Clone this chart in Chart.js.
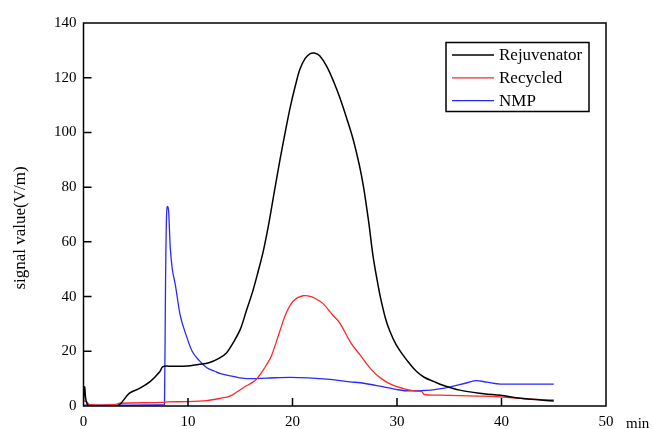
<!DOCTYPE html>
<html>
<head>
<meta charset="utf-8">
<script src="https://cdn.jsdelivr.net/npm/chart.js@4.4.1/dist/chart.umd.min.js"></script>
<style>
  html, body { margin: 0; padding: 0; background: #fff; }
  #wrap { width: 652px; height: 429px; position: relative; }
</style>
</head>
<body>
<div id="wrap"><canvas id="chart"></canvas></div>
<script>
// time axis (min) and signal values
let rejX = [0, 0.1, 0.5, 3.2, 4.4, 5.4, 6.4, 7.3, 7.6, 8.5, 9.9, 11.0, 12.0, 13.0, 13.7, 14.3, 15.0, 15.6, 16.2, 16.7, 17.2, 17.7, 18.2, 18.8, 19.3, 19.8, 20.3, 20.7, 21.2, 21.7, 22.1, 22.6, 23.3, 24.0, 24.5, 25.2, 25.8, 26.4, 26.8, 27.3, 27.7, 28.1, 28.4, 28.9, 29.3, 29.9, 30.6, 31.2, 31.9, 32.6, 33.5, 34.4, 36.0, 38.3, 39.9, 41.8, 43.5, 45.0];
let rejY = [2, 7, 0, 0, 4.7, 6.5, 9.0, 12.5, 14.4, 14.5, 14.6, 15.2, 15.8, 17.5, 19.5, 23, 28, 35, 42, 49, 56.5, 66, 77, 90, 100, 109.5, 117.5, 123, 127, 128.8, 129, 128, 124, 118, 113, 105, 97.5, 88, 80, 67, 55, 46, 40, 32, 27.5, 22.5, 18.5, 15.5, 12.5, 10.5, 9, 7.6, 5.8, 4.5, 3.9, 2.8, 2.3, 1.8];

let recX = [0, 0.3, 0.6, 3.0, 3.5, 7.6, 8.0, 10.0, 11.8, 13.1, 14.0, 14.7, 15.5, 16.4, 17.0, 17.5, 18.0, 18.8, 19.4, 20.1, 21.0, 21.8, 22.3, 22.9, 23.9, 24.5, 25.6, 26.5, 27.5, 28.5, 29.6, 30.8, 31.9, 32.4, 32.6, 34.1, 36.0, 38.3, 40.5, 43.4, 45.0];
let recY = [2, 1.5, 0.5, 0.5, 1.0, 1.3, 1.5, 1.6, 2.0, 2.8, 3.6, 5.2, 7.2, 9.2, 12, 15, 18.5, 27.5, 34, 38.5, 40.3, 40, 39, 37.5, 33, 30.5, 23, 18.5, 13.5, 10, 7.6, 6.2, 5.4, 5.2, 4.2, 4.0, 3.8, 3.6, 3.2, 2.4, 2.2];

let nmpX = [0, 7.75, 7.85, 7.95, 8.05, 8.15, 8.3, 8.5, 8.7, 8.8, 9.23, 9.9, 10.4, 11.1, 11.8, 12.5, 13.1, 14.3, 15.6, 17.5, 19.8, 21.5, 23.6, 25.5, 26.5, 28.7, 30.0, 31.2, 33.2, 35.1, 36.7, 37.6, 38.6, 39.9, 45.0];
let nmpY = [0.3, 0.5, 45, 70, 73, 71, 58, 50, 46, 44, 33.6, 25, 20, 16.5, 14, 12.8, 11.8, 10.8, 10, 10.2, 10.5, 10.3, 9.7, 8.8, 8.5, 7, 6, 5.5, 5.8, 7, 8.5, 9.3, 8.7, 8, 8];

let seriesNames = ['Rejuvenator', 'Recycled', 'NMP'];
let seriesColors = ['#000000', 'rgb(255,40,40)', 'rgb(40,40,255)'];

let xTicks = [0, 10, 20, 30, 40, 50];
let yTicks = [0, 20, 40, 60, 80, 100, 120, 140];

function toPoints(xs, ys) {
  return xs.map(function(x, i) { return {x: x, y: ys[i]}; });
}

let serif = '"Liberation Serif", "DejaVu Serif", serif';

// frame, inward ticks, axis unit, y title, legend box
let extras = {
  id: 'extras',
  afterDraw: function(chart) {
    let ctx = chart.ctx;
    let a = chart.chartArea;
    let xs = chart.scales.x, ys = chart.scales.y;
    ctx.save();
    ctx.strokeStyle = '#000';
    ctx.lineWidth = 1.5;
    ctx.strokeRect(a.left, a.top, a.right - a.left, a.bottom - a.top);
    ctx.beginPath();
    yTicks.forEach(function(v) {
      if (v == 0 || v == 140) return;
      let p = ys.getPixelForValue(v);
      ctx.moveTo(a.left, p); ctx.lineTo(a.left + 8, p);
    });
    xTicks.forEach(function(v) {
      if (v == 0 || v == 50) return;
      let p = xs.getPixelForValue(v);
      ctx.moveTo(p, a.bottom); ctx.lineTo(p, a.bottom - 8);
    });
    ctx.stroke();

    ctx.fillStyle = '#000';
    ctx.font = '15px ' + serif;
    ctx.textBaseline = 'middle';
    ctx.textAlign = 'left';
    ctx.fillText('min', 626, 424);

    ctx.save();
    ctx.translate(21, 228);
    ctx.rotate(-Math.PI / 2);
    ctx.textAlign = 'center';
    ctx.font = '17px ' + serif;
    ctx.fillText('signal value(V/m)', 0, 0);
    ctx.restore();

    // legend
    ctx.lineWidth = 1.5;
    ctx.strokeRect(446, 42.5, 143, 69);
    ctx.font = '17px ' + serif;
    ctx.textAlign = 'left';
    seriesNames.forEach(function(name, i) {
      let y = 55 + i * 22.8;
      ctx.strokeStyle = seriesColors[i];
      ctx.lineWidth = 1.3;
      ctx.beginPath();
      ctx.moveTo(452, y); ctx.lineTo(494, y);
      ctx.stroke();
      ctx.fillStyle = '#000';
      ctx.fillText(name, 499, y + 1);
    });
    ctx.restore();
  }
};

new Chart(document.getElementById('chart'), {
  type: 'line',
  data: {
    datasets: [
      { label: seriesNames[0], data: toPoints(rejX, rejY), borderColor: seriesColors[0], borderWidth: 1.5, tension: 0.35 },
      { label: seriesNames[1], data: toPoints(recX, recY), borderColor: seriesColors[1], borderWidth: 1.3, tension: 0.35 },
      { label: seriesNames[2], data: toPoints(nmpX, nmpY), borderColor: seriesColors[2], borderWidth: 1.3, cubicInterpolationMode: 'monotone' }
    ]
  },
  options: {
    responsive: true,
    maintainAspectRatio: false,
    animation: false,
    elements: {
      point: { radius: 0 },
      line: { fill: false }
    },
    layout: { padding: { left: 0, top: 23, right: 46, bottom: 0 } },
    plugins: { legend: { display: false }, tooltip: { enabled: false } },
    scales: {
      x: {
        type: 'linear',
        min: 0, max: 50,
        grid: { display: false, drawTicks: false },
        border: { display: false },
        afterBuildTicks: function(s) { s.ticks = xTicks.map(function(v) { return {value: v}; }); },
        afterFit: function(s) { s.height = 23; },
        ticks: { padding: 7, color: '#000', font: { family: serif, size: 15 }, maxRotation: 0 }
      },
      y: {
        min: 0, max: 140,
        grid: { display: false, drawTicks: false },
        border: { display: false },
        afterBuildTicks: function(s) { s.ticks = yTicks.map(function(v) { return {value: v}; }); },
        afterFit: function(s) { s.width = 83.5; },
        ticks: { padding: 7, color: '#000', font: { family: serif, size: 15 } }
      }
    }
  },
  plugins: [extras]
});
</script>
</body>
</html>
